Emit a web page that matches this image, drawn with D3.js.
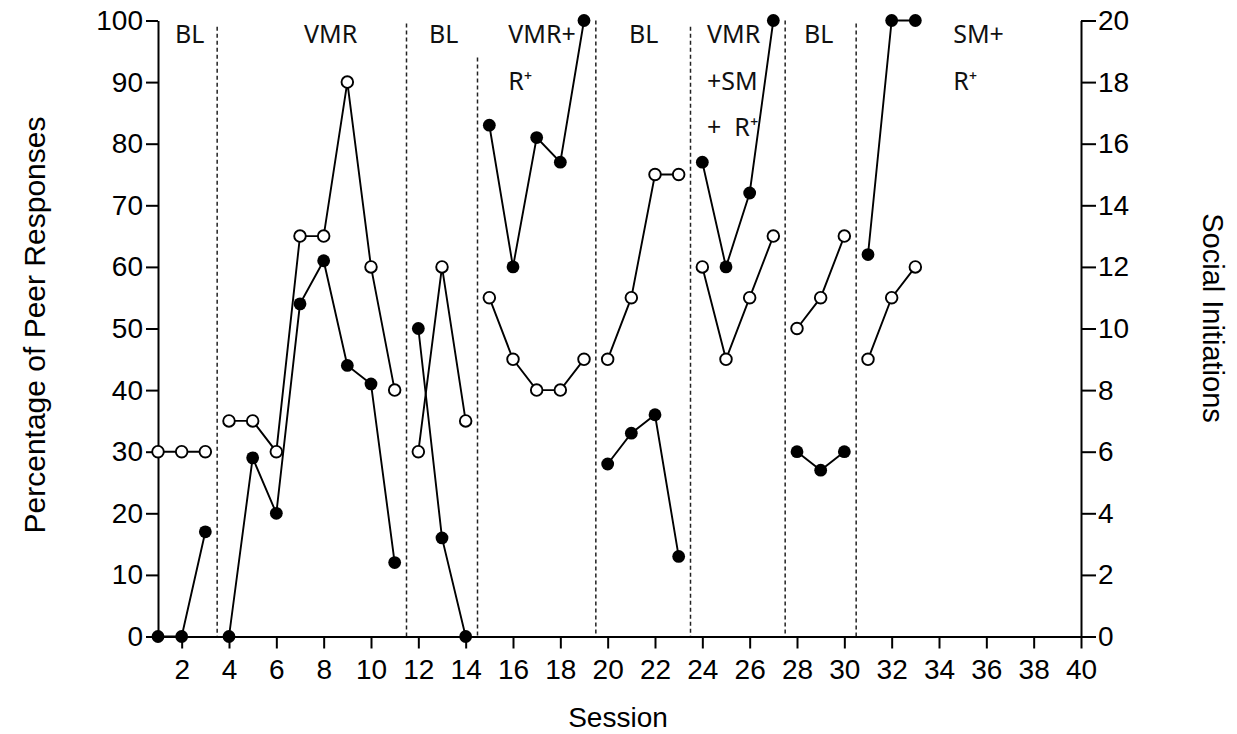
<!DOCTYPE html>
<html>
<head>
<meta charset="utf-8">
<script src="https://cdn.jsdelivr.net/npm/d3@7"></script>
<style>
  body { margin: 0; background: #fff; }
  svg { display: block; }
</style>
</head>
<body>
<svg id="chart" width="1237" height="734"></svg>
<script>
const sessions = [1, 2, 3, 4, 5, 6, 7, 8, 9, 10, 11, 12, 13, 14, 15, 16, 17,
  18, 19, 20, 21, 22, 23, 24, 25, 26, 27, 28, 29, 30, 31, 32, 33]
// filled circles, left axis (%)
const peerResponses = [0, 0, 17, 0, 29, 20, 54, 61, 44, 41, 12, 50, 16, 0,
  83, 60, 81, 77, 100, 28, 33, 36, 13, 77, 60, 72, 100, 30, 27, 30, 62, 100, 100]
// open circles, right axis (count)
const socialInitiations = [6, 6, 6, 7, 7, 6, 13, 13, 18, 12, 8, 6, 12, 7,
  11, 9, 8, 8, 9, 9, 11, 15, 15, 12, 9, 11, 13, 10, 11, 13, 9, 11, 12]

const phaseBreaks = [3.5, 11.5, 14.5, 19.5, 23.5, 27.5, 30.5]
const breakTops = [99, 99.5, 94, 100, 99, 100, 99.5]
const phaseLabels = [["BL"], ["VMR"], ["BL"], ["VMR+", "R⁺"], ["BL"],
  ["VMR", "+SM", "+  R⁺"], ["BL"], ["SM+", "R⁺"]]
const phaseLabelAt = [1.72, 7.17, 12.45, 15.8, 20.9, 24.2, 28.3, 34.6]

const xTicks = [2, 4, 6, 8, 10, 12, 14, 16, 18, 20, 22, 24, 26, 28, 30, 32, 34, 36, 38, 40]
const leftTicks = [0, 10, 20, 30, 40, 50, 60, 70, 80, 90, 100]
const rightTicks = [0, 2, 4, 6, 8, 10, 12, 14, 16, 18, 20]

const svg = d3.select("#chart")
const axisFont = "'Liberation Sans', Arial, sans-serif"

const x = d3.scaleLinear().domain([1, 40]).range([158, 1081])
const y = d3.scaleLinear().domain([0, 100]).range([636.5, 20.5])
const yR = d3.scaleLinear().domain([0, 20]).range([636.5, 20.5])

const phaseOf = s => phaseBreaks.filter(b => b < s).length

// phase change lines
svg.append("g")
  .selectAll("line")
  .data(phaseBreaks)
  .join("line")
    .attr("x1", d => x(d))
    .attr("x2", d => x(d))
    .attr("y1", (d, i) => y(breakTops[i]))
    .attr("y2", y(0))
    .attr("stroke", "#222")
    .attr("stroke-width", 1.5)
    .attr("stroke-dasharray", "4,3")

// axes
const styleAxis = g => {
  g.selectAll(".domain").attr("stroke", "#000").attr("stroke-width", 2)
  g.selectAll(".tick line").attr("stroke", "#000").attr("stroke-width", 2)
  g.selectAll("text").attr("font-family", axisFont).attr("font-size", 28).attr("fill", "#000")
}

svg.append("g")
  .attr("transform", "translate(0," + y(0) + ")")
  .call(d3.axisBottom(x).tickValues(xTicks).tickSize(12).tickSizeOuter(0).tickPadding(11))
  .call(styleAxis)

svg.append("g")
  .attr("transform", "translate(" + x(1) + ",0)")
  .call(d3.axisLeft(y).tickValues(leftTicks).tickSize(12).tickSizeOuter(0).tickPadding(3))
  .call(styleAxis)

svg.append("g")
  .attr("transform", "translate(" + x(40) + ",0)")
  .call(d3.axisRight(yR).tickValues(rightTicks).tickSize(15).tickSizeOuter(0).tickPadding(2))
  .call(styleAxis)

// axis titles
svg.append("text")
  .attr("transform", "translate(45," + 325 + ") rotate(-90)")
  .attr("text-anchor", "middle")
  .attr("font-family", axisFont)
  .attr("font-size", 30)
  .text("Percentage of Peer Responses")

svg.append("text")
  .attr("transform", "translate(1203," + 318 + ") rotate(90)")
  .attr("text-anchor", "middle")
  .attr("font-family", axisFont)
  .attr("font-size", 29)
  .text("Social Initiations")

svg.append("text")
  .attr("x", 618)
  .attr("y", 727)
  .attr("text-anchor", "middle")
  .attr("font-family", axisFont)
  .attr("font-size", 28)
  .text("Session")

// phase labels
const labels = svg.append("g")
  .attr("font-family", "'Noto Sans', sans-serif")
  .attr("font-size", 25)
  .attr("fill", "#111")
  .selectAll("text")
  .data(phaseLabels)
  .join("text")
    .attr("x", (d, i) => x(phaseLabelAt[i]))
    .attr("y", 43)

labels.selectAll("tspan")
  .data(d => d)
  .join("tspan")
    .attr("x", function() { return d3.select(this.parentNode).attr("x") })
    .attr("y", (d, i) => 43 + i * 46.5)
    .style("white-space", "pre")
    .text(d => d)

// data series, one path per phase
const points = sessions.map((s, i) => ({
  s,
  phase: phaseOf(s),
  peer: peerResponses[i],
  soc: socialInitiations[i]
}))
const byPhase = d3.groups(points, d => d.phase).map(d => d[1])

const peerLine = d3.line().x(d => x(d.s)).y(d => y(d.peer))
const socLine = d3.line().x(d => x(d.s)).y(d => yR(d.soc))

svg.append("g")
  .selectAll("path")
  .data(byPhase)
  .join("path")
    .attr("d", socLine)
    .attr("fill", "none")
    .attr("stroke", "#000")
    .attr("stroke-width", 1.9)

svg.append("g")
  .selectAll("path")
  .data(byPhase)
  .join("path")
    .attr("d", peerLine)
    .attr("fill", "none")
    .attr("stroke", "#000")
    .attr("stroke-width", 1.9)

svg.append("g")
  .selectAll("circle")
  .data(points)
  .join("circle")
    .attr("cx", d => x(d.s))
    .attr("cy", d => yR(d.soc))
    .attr("r", 5.8)
    .attr("fill", "#fff")
    .attr("stroke", "#000")
    .attr("stroke-width", 1.9)

svg.append("g")
  .selectAll("circle")
  .data(points)
  .join("circle")
    .attr("cx", d => x(d.s))
    .attr("cy", d => y(d.peer))
    .attr("r", 6.4)
    .attr("fill", "#000")
</script>
</body>
</html>
